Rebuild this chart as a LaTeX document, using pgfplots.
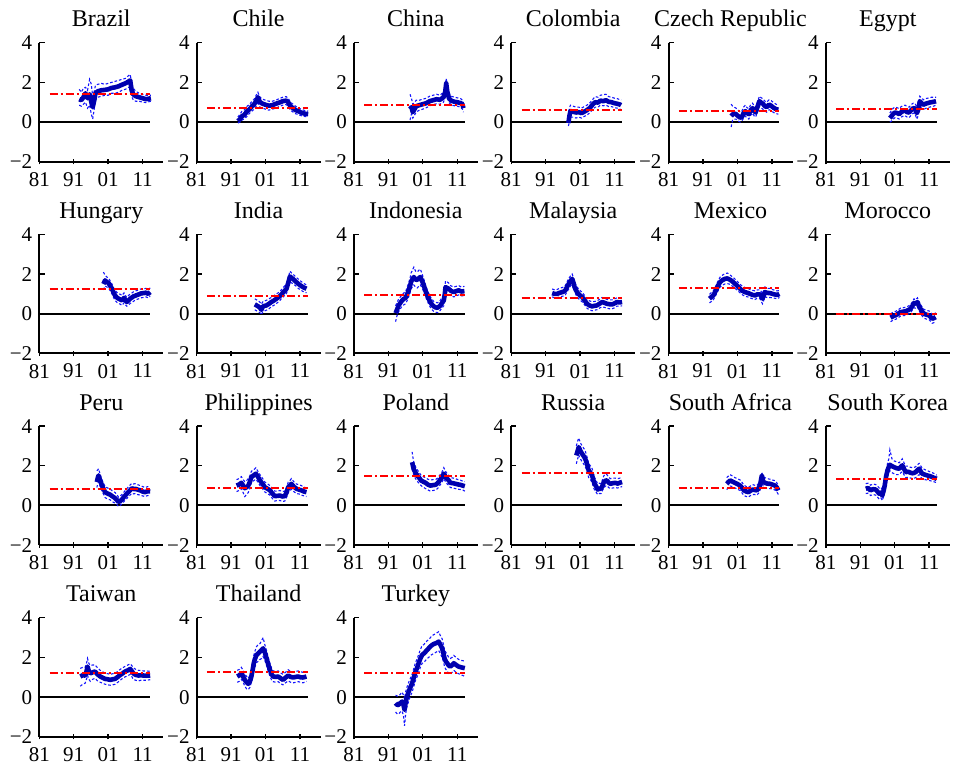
\documentclass[border=0pt]{standalone}
\usepackage{fontspec}
\setmainfont{Liberation Serif}
\usepackage{pgfplots}
\usepackage{pgfplotstable}
\pgfplotsset{compat=1.18}
\definecolor{linecol}{RGB}{0,0,175}
\definecolor{bandcol}{RGB}{20,20,255}
\definecolor{meancol}{RGB}{255,0,0}

\pgfplotstableread{
x y lo hi
1992.6 1.15 0.85 1.65
1993.2 1.10 0.80 1.50
1993.8 1.25 0.90 1.70
1994.4 1.45 1.00 1.75
1995.0 1.20 0.70 1.60
1995.6 1.40 0.85 2.15
1996.1 1.00 0.40 1.90
1996.5 0.75 0.15 1.30
1996.9 1.05 0.60 1.50
1997.3 1.45 1.10 1.85
1998.0 1.55 1.25 1.90
1999.0 1.60 1.30 1.95
2000.0 1.62 1.35 1.90
2001.0 1.65 1.35 1.95
2002.0 1.72 1.45 2.00
2003.0 1.75 1.45 2.05
2004.0 1.80 1.50 2.10
2005.0 1.88 1.60 2.15
2006.0 1.95 1.65 2.20
2007.0 2.05 1.75 2.35
2007.4 2.10 1.80 2.40
2007.8 1.60 1.30 1.95
2008.3 1.40 1.10 1.70
2009.0 1.30 1.05 1.55
2010.0 1.25 1.05 1.45
2011.0 1.20 1.00 1.40
2012.0 1.15 0.98 1.35
2013.4 1.20 1.05 1.35
}\brazil
\pgfplotstableread{
x y lo hi
1993.0 0.05 -0.05 0.25
1993.6 0.15 0.00 0.40
1994.2 0.30 0.10 0.55
1994.8 0.35 0.15 0.60
1995.7 0.55 0.30 0.80
1996.4 0.65 0.45 0.90
1997.1 0.80 0.55 1.05
1997.7 0.90 0.65 1.15
1998.3 1.05 0.80 1.35
1998.8 1.25 0.95 1.50
1999.4 1.00 0.75 1.25
2000.2 0.92 0.70 1.15
2001.0 0.87 0.65 1.10
2002.0 0.82 0.60 1.05
2003.0 0.85 0.65 1.05
2004.0 0.92 0.70 1.10
2005.0 0.98 0.78 1.18
2006.0 1.05 0.85 1.25
2007.0 1.08 0.88 1.28
2007.6 1.00 0.80 1.20
2008.2 0.80 0.60 1.00
2009.0 0.70 0.50 0.90
2009.7 0.60 0.42 0.80
2010.5 0.55 0.38 0.72
2011.3 0.48 0.32 0.65
2012.4 0.42 0.28 0.58
2013.4 0.40 0.27 0.55
}\chile
\pgfplotstableread{
x y lo hi
1997.3 0.65 0.10 1.40
1997.7 0.75 0.40 1.20
1998.1 0.50 0.20 0.90
1998.6 0.65 0.35 1.00
1999.1 0.80 0.50 1.10
2000.0 0.85 0.60 1.10
2001.0 0.90 0.65 1.15
2002.0 0.95 0.72 1.20
2003.0 1.05 0.82 1.30
2004.0 1.10 0.88 1.35
2005.0 1.15 0.92 1.40
2006.0 1.12 0.90 1.35
2007.0 1.25 1.00 1.50
2007.5 1.50 1.25 1.80
2007.8 1.95 1.65 2.20
2008.1 1.55 1.30 1.85
2008.6 1.20 0.98 1.45
2009.3 1.07 0.85 1.30
2010.2 1.02 0.82 1.25
2011.0 1.00 0.80 1.22
2012.0 0.95 0.75 1.18
2012.5 0.90 0.65 1.10
2012.8 0.70 0.50 0.95
}\china
\pgfplotstableread{
x y lo hi
1997.6 -0.05 -0.20 0.30
1997.9 0.30 0.00 0.70
1998.2 0.55 0.25 0.85
1999.0 0.52 0.25 0.80
1999.8 0.48 0.20 0.75
2000.6 0.50 0.25 0.75
2001.4 0.45 0.20 0.70
2002.2 0.52 0.28 0.78
2003.0 0.60 0.35 0.85
2003.9 0.72 0.48 0.98
2004.7 0.90 0.65 1.15
2005.4 1.00 0.75 1.28
2006.2 0.98 0.75 1.25
2006.9 1.08 0.85 1.35
2007.7 1.05 0.82 1.38
2008.5 1.10 0.85 1.40
2009.3 1.02 0.78 1.28
2010.1 1.00 0.78 1.25
2011.0 0.95 0.72 1.20
2011.8 0.92 0.70 1.18
2012.6 0.88 0.65 1.12
2012.9 0.85 0.62 1.10
}\colombia
\pgfplotstableread{
x y lo hi
1999.2 0.30 -0.25 0.90
1999.6 0.38 0.10 0.80
2000.1 0.42 0.15 0.75
2000.6 0.40 0.15 0.70
2001.2 0.30 0.05 0.60
2001.8 0.22 0.00 0.50
2002.3 0.25 0.05 0.55
2002.8 0.45 0.20 0.75
2003.3 0.55 0.30 0.85
2003.8 0.45 0.20 0.72
2004.3 0.40 0.15 0.68
2004.9 0.60 0.35 0.88
2005.4 0.70 0.45 0.95
2005.9 0.55 0.30 0.80
2006.3 0.48 0.25 0.75
2006.9 0.80 0.55 1.05
2007.4 1.05 0.80 1.30
2007.9 0.98 0.72 1.22
2008.4 0.92 0.65 1.18
2009.0 0.80 0.55 1.05
2009.5 0.75 0.50 1.00
2010.2 0.88 0.62 1.12
2010.8 0.82 0.58 1.08
2011.5 0.72 0.48 0.98
2012.2 0.65 0.42 0.90
2012.9 0.62 0.40 0.85
}\czech
\pgfplotstableread{
x y lo hi
1999.6 0.20 0.00 0.45
2000.1 0.30 0.05 0.60
2000.6 0.42 0.15 0.70
2001.1 0.48 0.22 0.75
2001.7 0.45 0.20 0.72
2002.3 0.40 0.15 0.68
2002.9 0.50 0.25 0.78
2003.5 0.55 0.30 0.82
2004.0 0.58 0.32 0.85
2004.6 0.50 0.25 0.78
2005.2 0.48 0.22 0.75
2005.8 0.60 0.35 0.88
2006.4 0.70 0.45 0.95
2006.9 0.68 0.42 0.95
2007.4 0.45 0.15 0.75
2007.8 0.60 0.30 0.90
2008.3 1.05 0.78 1.30
2008.8 0.95 0.70 1.22
2009.3 0.87 0.62 1.12
2009.9 0.92 0.68 1.18
2010.5 0.95 0.72 1.20
2011.1 0.98 0.75 1.22
2011.7 1.00 0.78 1.25
2012.3 1.02 0.80 1.25
2013.0 1.05 0.85 1.25
}\egypt
\pgfplotstableread{
x y lo hi
1999.6 1.50 1.20 2.10
2000.1 1.68 1.40 1.95
2000.6 1.60 1.35 1.85
2001.1 1.55 1.30 1.80
2001.6 1.40 1.15 1.65
2002.1 1.26 1.00 1.50
2002.6 1.05 0.80 1.30
2003.0 0.92 0.68 1.18
2003.5 0.82 0.58 1.08
2004.0 0.76 0.52 1.00
2004.5 0.72 0.48 0.98
2005.0 0.67 0.42 0.92
2005.6 0.80 0.55 1.05
2006.0 0.68 0.45 0.92
2006.4 0.59 0.38 0.82
2006.9 0.68 0.45 0.92
2007.4 0.76 0.52 1.00
2007.9 0.82 0.58 1.05
2008.3 0.87 0.62 1.10
2009.0 0.92 0.70 1.15
2009.8 0.97 0.75 1.20
2010.5 1.02 0.80 1.25
2011.2 1.04 0.82 1.25
2012.0 1.06 0.85 1.28
2012.6 1.00 0.80 1.22
2013.2 1.09 0.88 1.30
}\hungary
\pgfplotstableread{
x y lo hi
1997.9 0.47 0.20 0.75
1998.4 0.42 0.15 0.70
1998.9 0.37 0.10 0.65
1999.4 0.30 0.05 0.58
1999.8 0.20 -0.05 0.48
2000.3 0.37 0.12 0.62
2000.8 0.40 0.15 0.65
2001.3 0.42 0.18 0.68
2002.0 0.50 0.25 0.75
2002.7 0.59 0.35 0.82
2003.4 0.66 0.42 0.90
2004.2 0.76 0.52 1.00
2004.9 0.85 0.62 1.08
2005.6 0.97 0.75 1.20
2006.3 1.10 0.88 1.35
2007.1 1.26 1.02 1.50
2007.6 1.55 1.30 1.80
2008.1 1.88 1.62 2.15
2008.6 1.80 1.55 2.05
2009.0 1.76 1.52 2.00
2009.8 1.62 1.40 1.85
2010.5 1.51 1.28 1.75
2011.2 1.42 1.20 1.65
2011.9 1.34 1.12 1.55
2012.4 1.30 1.10 1.50
2012.9 1.26 1.05 1.45
}\india
\pgfplotstableread{
x y lo hi
1993.1 0.03 -0.40 0.40
1993.5 0.20 -0.10 0.55
1994.0 0.42 0.10 0.75
1994.5 0.55 0.25 0.85
1995.0 0.67 0.38 0.95
1995.5 0.75 0.45 1.05
1996.0 0.80 0.50 1.10
1996.5 1.00 0.68 1.35
1996.9 1.18 0.85 1.55
1997.3 1.40 1.05 1.80
1997.6 1.60 1.25 2.05
1998.0 1.75 1.35 2.20
1998.4 1.85 1.45 2.35
1998.9 1.72 1.35 2.15
1999.4 1.71 1.30 2.10
1999.9 1.80 1.40 2.20
2000.3 1.85 1.45 2.25
2000.8 1.65 1.30 2.00
2001.3 1.43 1.10 1.75
2001.8 1.15 0.85 1.45
2002.3 0.92 0.65 1.20
2002.8 0.72 0.45 1.00
2003.2 0.59 0.32 0.85
2003.7 0.45 0.20 0.72
2004.2 0.37 0.12 0.62
2004.7 0.32 0.08 0.58
2005.2 0.30 0.05 0.55
2005.7 0.35 0.10 0.60
2006.1 0.42 0.18 0.68
2006.6 0.55 0.30 0.82
2007.1 0.67 0.40 0.95
2007.4 1.00 0.70 1.35
2007.6 1.34 1.05 1.65
2008.1 1.30 1.02 1.60
2008.5 1.26 0.98 1.55
2009.2 1.15 0.90 1.40
2010.0 1.09 0.85 1.35
2010.7 1.14 0.90 1.38
2011.4 1.18 0.95 1.42
2012.2 1.12 0.90 1.35
2013.1 1.14 0.92 1.38
}\indonesia
\pgfplotstableread{
x y lo hi
1992.9 1.04 0.85 1.25
1993.6 1.00 0.80 1.20
1994.3 1.00 0.80 1.22
1995.0 1.05 0.85 1.28
1995.8 1.09 0.88 1.32
1996.3 1.12 0.90 1.35
1996.7 1.18 0.95 1.42
1997.2 1.35 1.10 1.60
1997.7 1.51 1.25 1.78
1998.2 1.65 1.40 1.90
1998.7 1.76 1.50 2.00
1999.1 1.55 1.30 1.80
1999.4 1.34 1.10 1.60
2000.1 1.09 0.85 1.35
2000.8 0.95 0.72 1.20
2001.6 0.84 0.60 1.08
2002.3 0.68 0.45 0.92
2003.0 0.50 0.28 0.75
2003.7 0.42 0.20 0.65
2004.5 0.37 0.15 0.60
2005.2 0.40 0.18 0.62
2005.9 0.42 0.20 0.65
2006.6 0.50 0.28 0.72
2007.4 0.59 0.35 0.82
2008.1 0.55 0.32 0.78
2008.8 0.50 0.28 0.72
2009.5 0.48 0.25 0.70
2010.3 0.47 0.25 0.70
2011.0 0.52 0.30 0.75
2011.7 0.59 0.38 0.80
2012.5 0.57 0.38 0.78
2013.2 0.59 0.40 0.80
}\malaysia
\pgfplotstableread{
x y lo hi
1992.9 0.76 0.55 0.98
1993.5 0.85 0.62 1.08
1994.0 0.92 0.70 1.15
1994.5 1.08 0.85 1.32
1995.0 1.26 1.02 1.50
1995.5 1.45 1.20 1.70
1996.0 1.60 1.35 1.85
1996.7 1.70 1.45 1.95
1997.4 1.76 1.50 2.02
1998.1 1.78 1.52 2.05
1998.9 1.71 1.48 1.95
1999.6 1.62 1.38 1.85
2000.3 1.51 1.28 1.75
2001.0 1.40 1.18 1.62
2001.8 1.26 1.05 1.48
2002.5 1.15 0.95 1.38
2003.2 1.09 0.88 1.32
2004.0 1.05 0.85 1.28
2004.7 1.00 0.80 1.22
2005.4 0.95 0.75 1.18
2006.1 0.92 0.72 1.15
2006.8 0.98 0.78 1.20
2007.6 0.97 0.75 1.20
2008.0 0.85 0.60 1.10
2008.3 0.76 0.50 1.00
2008.7 0.95 0.70 1.20
2009.0 1.09 0.85 1.35
2009.7 1.05 0.82 1.28
2010.5 1.04 0.82 1.28
2011.2 1.00 0.80 1.22
2011.9 0.97 0.78 1.18
2012.6 0.95 0.75 1.15
2013.2 1.00 0.82 1.18
}\mexico
\pgfplotstableread{
x y lo hi
1999.8 -0.20 -0.40 0.00
2000.3 -0.15 -0.35 0.05
2000.8 -0.10 -0.30 0.10
2001.3 -0.08 -0.28 0.12
2002.0 0.00 -0.20 0.20
2002.7 0.08 -0.12 0.28
2003.4 0.10 -0.10 0.30
2004.2 0.13 -0.08 0.33
2004.9 0.18 -0.02 0.38
2005.6 0.25 0.05 0.45
2006.1 0.38 0.18 0.58
2006.6 0.54 0.30 0.75
2007.1 0.50 0.28 0.70
2007.6 0.59 0.35 0.80
2008.0 0.40 0.18 0.62
2008.5 0.25 0.02 0.48
2009.0 0.10 -0.12 0.32
2009.5 0.00 -0.22 0.22
2010.2 -0.05 -0.27 0.17
2011.0 -0.08 -0.30 0.14
2011.5 -0.18 -0.40 0.05
2011.9 -0.25 -0.48 -0.02
2012.4 -0.22 -0.45 0.00
2012.9 -0.17 -0.40 0.05
}\morocco
\pgfplotstableread{
x y lo hi
1997.7 1.18 0.90 1.75
1998.0 1.40 1.10 1.80
1998.2 1.51 1.20 1.85
1998.7 1.25 0.95 1.55
1999.2 1.00 0.72 1.30
1999.7 0.82 0.55 1.10
2000.1 0.67 0.40 0.95
2000.8 0.60 0.32 0.88
2001.6 0.54 0.28 0.82
2002.3 0.45 0.18 0.72
2003.0 0.37 0.12 0.65
2003.5 0.28 0.05 0.55
2004.0 0.17 -0.05 0.42
2004.5 0.22 0.00 0.48
2005.0 0.30 0.08 0.55
2005.7 0.45 0.22 0.70
2006.4 0.59 0.35 0.85
2007.1 0.72 0.48 0.98
2007.9 0.87 0.62 1.12
2008.4 0.82 0.58 1.08
2008.8 0.84 0.60 1.10
2009.5 0.80 0.55 1.05
2010.3 0.76 0.52 1.00
2011.0 0.70 0.48 0.95
2011.7 0.67 0.45 0.90
2012.5 0.72 0.50 0.95
2013.2 0.71 0.48 0.95
}\peru
\pgfplotstableread{
x y lo hi
1992.6 1.00 0.70 1.30
1993.3 1.05 0.75 1.35
1994.0 1.14 0.85 1.45
1994.5 1.00 0.65 1.30
1995.0 0.87 0.45 1.20
1995.5 0.92 0.55 1.25
1996.0 1.00 0.65 1.35
1996.5 1.20 0.88 1.50
1996.9 1.43 1.15 1.72
1997.6 1.52 1.25 1.80
1998.2 1.60 1.32 1.90
1998.8 1.45 1.18 1.72
1999.4 1.26 1.00 1.55
2000.1 1.10 0.85 1.38
2000.8 0.92 0.68 1.18
2001.5 0.85 0.60 1.10
2002.3 0.76 0.52 1.00
2003.0 0.60 0.35 0.85
2003.7 0.47 0.22 0.72
2004.4 0.48 0.25 0.72
2005.2 0.50 0.25 0.75
2005.9 0.45 0.20 0.70
2006.6 0.47 0.22 0.72
2007.1 0.65 0.40 0.90
2007.6 0.92 0.65 1.18
2008.1 1.00 0.75 1.25
2008.5 1.09 0.82 1.35
2009.2 0.95 0.70 1.20
2010.0 0.84 0.60 1.08
2010.7 0.80 0.58 1.05
2011.4 0.76 0.52 1.00
2012.2 0.70 0.48 0.92
2012.9 0.67 0.45 0.88
}\philippines
\pgfplotstableread{
x y lo hi
1997.9 2.18 1.85 2.70
1998.2 1.95 1.65 2.35
1998.4 1.82 1.50 2.15
1998.9 1.65 1.35 1.95
1999.4 1.51 1.22 1.80
2000.0 1.38 1.10 1.65
2000.5 1.26 1.00 1.52
2001.1 1.20 0.92 1.45
2001.8 1.14 0.85 1.40
2002.5 1.05 0.78 1.32
2003.2 1.00 0.72 1.28
2003.9 1.02 0.75 1.30
2004.7 1.04 0.78 1.30
2005.3 1.12 0.85 1.38
2005.9 1.26 1.00 1.52
2006.5 1.40 1.15 1.65
2007.1 1.60 1.35 1.90
2007.6 1.45 1.20 1.72
2008.1 1.34 1.08 1.60
2008.6 1.25 1.00 1.50
2009.0 1.14 0.90 1.40
2009.8 1.12 0.88 1.38
2010.5 1.09 0.85 1.35
2011.2 1.06 0.82 1.30
2011.9 1.04 0.80 1.28
2012.6 1.00 0.78 1.22
2013.2 0.97 0.72 1.20
}\poland
\pgfplotstableread{
x y lo hi
1999.9 2.52 2.10 3.00
2000.3 2.75 2.35 3.25
2000.6 2.94 2.55 3.40
2001.1 2.75 2.35 3.15
2001.6 2.60 2.20 3.00
2002.0 2.50 2.10 2.90
2002.5 2.35 1.95 2.75
2003.0 2.10 1.75 2.45
2003.5 1.76 1.40 2.10
2004.0 1.65 1.30 2.00
2004.5 1.51 1.15 1.85
2004.9 1.25 0.90 1.60
2005.2 1.09 0.78 1.40
2005.7 0.95 0.65 1.25
2006.1 0.80 0.55 1.08
2006.6 0.85 0.60 1.12
2007.1 0.84 0.60 1.10
2007.5 1.00 0.75 1.30
2007.9 1.18 0.90 1.50
2008.4 1.25 0.98 1.58
2008.8 1.26 1.00 1.55
2009.3 1.15 0.90 1.42
2009.8 1.09 0.85 1.35
2010.5 1.12 0.88 1.38
2011.2 1.14 0.90 1.38
2011.9 1.10 0.88 1.35
2012.6 1.15 0.92 1.38
2013.2 1.18 0.95 1.40
}\russia
\pgfplotstableread{
x y lo hi
1997.9 1.09 0.80 1.40
1998.4 1.18 0.90 1.48
1998.9 1.26 0.98 1.55
1999.6 1.20 0.95 1.48
2000.3 1.14 0.88 1.40
2001.0 1.08 0.82 1.35
2001.8 1.00 0.75 1.28
2002.4 0.88 0.62 1.15
2002.9 0.76 0.50 1.02
2003.6 0.70 0.45 0.95
2004.2 0.67 0.42 0.92
2004.8 0.74 0.50 0.98
2005.4 0.80 0.55 1.05
2006.0 0.78 0.55 1.02
2006.6 0.76 0.52 1.00
2007.1 0.85 0.60 1.10
2007.6 1.04 0.78 1.30
2008.1 1.51 1.25 1.65
2008.5 1.20 0.95 1.45
2009.0 1.14 0.88 1.40
2009.7 1.10 0.85 1.35
2010.5 1.09 0.85 1.32
2011.2 1.05 0.82 1.28
2011.9 1.00 0.78 1.25
2012.4 0.92 0.70 1.15
2012.9 0.76 0.55 1.00
}\southafrica
\pgfplotstableread{
x y lo hi
1992.6 0.84 0.60 1.10
1993.3 0.88 0.62 1.12
1994.0 0.76 0.50 1.02
1994.7 0.82 0.55 1.08
1995.5 0.80 0.52 1.05
1996.0 0.70 0.42 0.98
1996.5 0.59 0.32 0.88
1997.0 0.65 0.38 0.92
1997.4 0.50 0.25 0.78
1997.8 0.75 0.45 1.05
1998.1 1.00 0.70 1.30
1998.5 1.45 1.15 1.75
1998.9 1.76 1.45 2.10
1999.3 1.95 1.65 2.35
1999.6 2.05 1.75 2.80
2000.2 1.98 1.65 2.35
2000.8 1.93 1.60 2.25
2001.5 1.88 1.55 2.20
2002.3 1.85 1.55 2.15
2002.8 1.95 1.65 2.25
2003.2 2.02 1.70 2.35
2003.7 1.85 1.55 2.15
2004.2 1.68 1.40 1.98
2004.9 1.70 1.42 1.98
2005.6 1.65 1.38 1.92
2006.3 1.62 1.35 1.90
2007.1 1.68 1.40 1.95
2007.6 1.78 1.50 2.05
2008.1 1.85 1.55 2.12
2008.6 1.70 1.42 1.98
2009.0 1.60 1.35 1.88
2009.8 1.55 1.30 1.80
2010.5 1.51 1.28 1.75
2011.2 1.48 1.25 1.70
2011.9 1.43 1.22 1.65
2012.6 1.38 1.18 1.60
2013.2 1.34 1.15 1.52
}\southkorea
\pgfplotstableread{
x y lo hi
1992.9 1.04 0.55 1.45
1993.6 1.10 0.65 1.50
1994.3 1.09 0.70 1.50
1994.7 1.30 0.90 1.70
1995.0 1.54 1.10 1.95
1995.4 1.30 0.90 1.70
1995.8 1.20 0.80 1.60
1996.5 1.25 0.90 1.62
1997.2 1.29 0.95 1.62
1997.9 1.15 0.82 1.48
1998.7 1.04 0.75 1.35
1999.4 0.98 0.70 1.28
2000.1 0.92 0.65 1.20
2000.9 0.90 0.62 1.18
2001.6 0.87 0.60 1.15
2002.3 0.90 0.62 1.18
2003.0 0.92 0.65 1.20
2003.8 1.02 0.75 1.30
2004.5 1.12 0.85 1.40
2005.2 1.20 0.95 1.48
2005.9 1.29 1.02 1.55
2006.7 1.35 1.08 1.62
2007.4 1.42 1.15 1.68
2007.9 1.30 1.02 1.58
2008.3 1.20 0.90 1.48
2009.0 1.12 0.85 1.40
2009.8 1.09 0.82 1.35
2010.5 1.10 0.85 1.35
2011.2 1.09 0.85 1.32
2012.0 1.08 0.85 1.32
2013.2 1.09 0.88 1.30
}\taiwan
\pgfplotstableread{
x y lo hi
1992.8 1.04 0.75 1.35
1993.4 1.10 0.80 1.40
1994.0 1.20 0.90 1.50
1994.5 1.05 0.75 1.35
1995.0 0.87 0.55 1.15
1995.5 0.75 0.42 1.05
1996.0 0.67 0.38 0.95
1996.5 0.80 0.50 1.10
1996.9 1.04 0.75 1.35
1997.3 1.40 1.05 1.75
1997.6 1.71 1.35 2.10
1998.0 1.95 1.55 2.35
1998.4 2.13 1.75 2.55
1998.9 2.20 1.80 2.65
1999.4 2.29 1.90 2.70
1999.9 2.38 1.95 2.85
2000.3 2.46 2.05 3.00
2000.8 2.25 1.85 2.65
2001.3 1.96 1.60 2.35
2001.8 1.65 1.30 2.00
2002.3 1.37 1.05 1.70
2002.8 1.15 0.85 1.45
2003.2 1.04 0.78 1.32
2004.0 1.02 0.75 1.30
2004.7 1.04 0.78 1.32
2005.4 0.95 0.68 1.22
2006.1 0.87 0.62 1.15
2006.8 0.98 0.72 1.25
2007.6 1.09 0.82 1.38
2008.3 1.02 0.75 1.30
2009.0 0.99 0.72 1.28
2009.8 1.02 0.75 1.30
2010.5 1.04 0.78 1.32
2011.2 1.00 0.75 1.28
2011.9 0.99 0.72 1.25
2012.9 1.04 0.80 1.28
}\thailand
\pgfplotstableread{
x y lo hi
1993.1 -0.30 -0.75 0.10
1993.6 -0.40 -0.85 0.05
1994.0 -0.38 -0.85 0.05
1994.5 -0.30 -0.75 0.15
1995.0 -0.22 -0.70 0.25
1995.4 -0.40 -0.95 0.10
1995.7 -0.64 -1.45 -0.10
1996.0 -0.30 -0.90 0.25
1996.3 -0.05 -0.55 0.45
1996.9 0.28 -0.20 0.75
1997.4 0.50 0.05 0.95
1997.9 0.70 0.25 1.15
1998.4 1.00 0.55 1.45
1998.9 1.29 0.85 1.75
1999.4 1.50 1.05 1.95
1999.8 1.71 1.25 2.15
2000.3 1.95 1.50 2.40
2000.8 2.13 1.70 2.60
2001.3 2.20 1.75 2.65
2001.8 2.29 1.85 2.75
2002.3 2.38 1.95 2.85
2002.7 2.46 2.00 2.90
2003.2 2.55 2.10 3.00
2003.7 2.63 2.15 3.10
2004.2 2.68 2.20 3.15
2004.7 2.71 2.25 3.20
2005.2 2.75 2.30 3.25
2005.6 2.80 2.35 3.30
2006.1 2.65 2.20 3.10
2006.6 2.46 2.00 2.95
2007.0 2.20 1.80 2.65
2007.3 1.96 1.55 2.40
2007.7 1.80 1.40 2.25
2008.1 1.71 1.30 2.15
2008.5 1.60 1.20 2.00
2009.0 1.54 1.15 1.95
2009.5 1.62 1.25 2.00
2010.0 1.71 1.35 2.10
2010.7 1.62 1.25 2.00
2011.4 1.54 1.18 1.90
2012.2 1.50 1.12 1.85
2013.2 1.46 1.05 1.82
}\turkey

\pgfplotsset{panel/.style={
  scale only axis, width=62pt, height=59.5pt, anchor=north west,
  xmin=1981, xmax=2017, ymin=-2, ymax=4,
  axis x line=bottom, axis y line=left,
  axis line style={-, line width=1pt, black},
  xtick={1981,1991,2001,2011}, xticklabels={81,91,01,11},
  ytick={-2,0,2,4}, yticklabels={−2,0,2,4},
  xtick align=center, ytick align=inside,
  tick style={black, line width=0.7pt}, major tick length=2.6pt,
  /pgf/number format/assume math mode=true,
  tick label style={font=\fontsize{10.5}{12}\selectfont},
  every axis title shift=0pt,
  title style={font=\fontsize{12}{14}\selectfont, at={(0.5,1)}, anchor=base, yshift=8pt},
  xticklabel style={yshift=-0.5pt},
  clip=false,
}}

\newcommand{\panel}[5]{%
\begin{axis}[panel, at={(#1*78.65pt,-#2*95.85pt)}, title={#3}]
\addplot[draw=black, line width=1pt] coordinates {(1981,0) (2013.2,0)};
\addplot[draw=bandcol, line width=0.55pt, dash pattern=on 1.3pt off 1pt] table[x index=0, y index=2] {#4};
\addplot[draw=bandcol, line width=0.55pt, dash pattern=on 1.3pt off 1pt] table[x index=0, y index=3] {#4};
\addplot[draw=linecol, line width=2.3pt, line join=round] table[x index=0, y index=1] {#4};
\addplot[draw=meancol, line width=1pt, dash pattern=on 4pt off 1.5pt on 1pt off 1.5pt] coordinates {(1984,#5) (2013.2,#5)};
\end{axis}}

\begin{document}
\begin{tikzpicture}
\useasboundingbox (-19.65pt,-363.15pt) rectangle (457.35pt,21.35pt);
\panel{0}{0}{Brazil}{\brazil}{1.40}
\panel{1}{0}{Chile}{\chile}{0.70}
\panel{2}{0}{China}{\china}{0.88}
\panel{3}{0}{Colombia}{\colombia}{0.63}
\panel{4}{0}{Czech Republic}{\czech}{0.55}
\panel{5}{0}{Egypt}{\egypt}{0.65}
\panel{0}{1}{Hungary}{\hungary}{1.26}
\panel{1}{1}{India}{\india}{0.87}
\panel{2}{1}{Indonesia}{\indonesia}{0.94}
\panel{3}{1}{Malaysia}{\malaysia}{0.81}
\panel{4}{1}{Mexico}{\mexico}{1.31}
\panel{5}{1}{Morocco}{\morocco}{0.00}
\panel{0}{2}{Peru}{\peru}{0.81}
\panel{1}{2}{Philippines}{\philippines}{0.87}
\panel{2}{2}{Poland}{\poland}{1.46}
\panel{3}{2}{Russia}{\russia}{1.63}
\panel{4}{2}{South Africa}{\southafrica}{0.87}
\panel{5}{2}{South Korea}{\southkorea}{1.34}
\panel{0}{3}{Taiwan}{\taiwan}{1.20}
\panel{1}{3}{Thailand}{\thailand}{1.29}
\panel{2}{3}{Turkey}{\turkey}{1.20}
\end{tikzpicture}
\end{document}
